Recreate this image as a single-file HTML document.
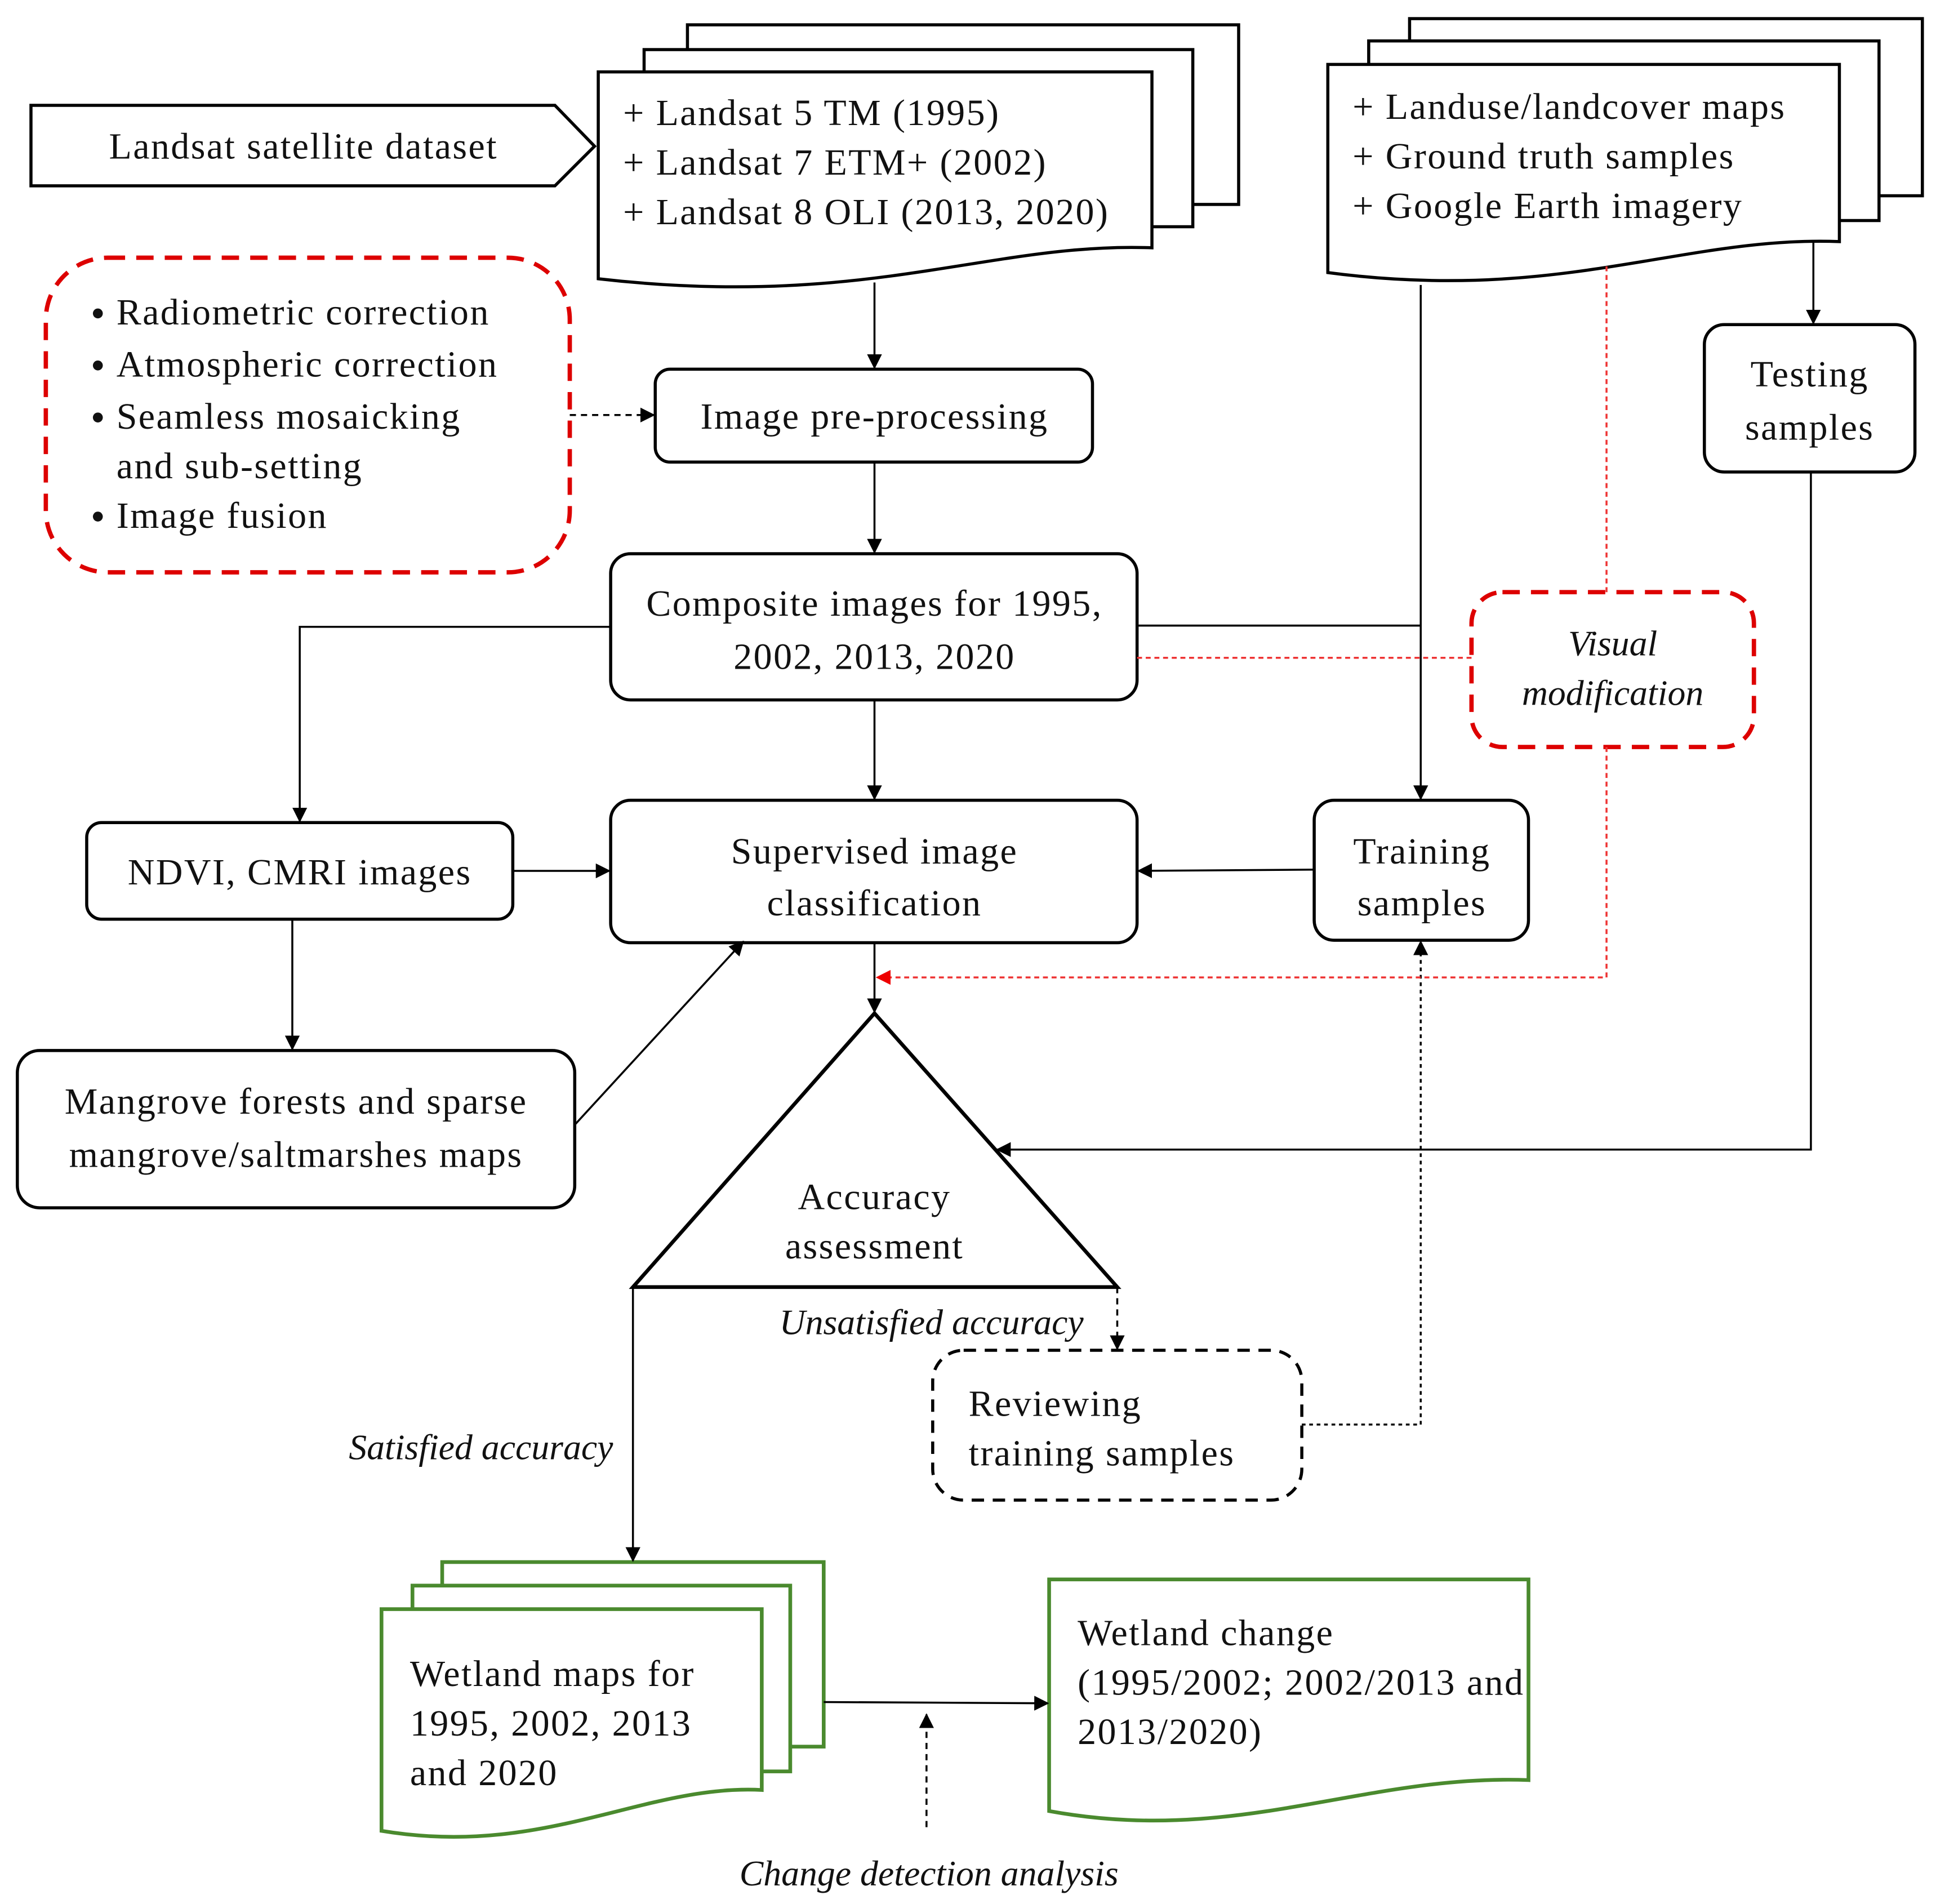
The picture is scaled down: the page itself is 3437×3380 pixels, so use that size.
<!DOCTYPE html>
<html><head><meta charset="utf-8"><style>
html,body{margin:0;padding:0;background:#fff}
svg{display:block}
text{font-family:"Liberation Serif",serif;font-size:30px;fill:#111;letter-spacing:1.1px}
.i{font-style:italic;font-size:29px;letter-spacing:0}
</style></head><body>
<svg width="3437" height="3380" viewBox="0 0 1563 1537" xmlns="http://www.w3.org/2000/svg">
<defs>
<marker id="a" markerWidth="12" markerHeight="12" refX="11" refY="6" orient="auto" markerUnits="userSpaceOnUse" viewBox="0 0 12 12"><path d="M0,0 L12,6 L0,12z" fill="#000"/></marker>
<marker id="r" markerWidth="12" markerHeight="12" refX="11" refY="6" orient="auto" markerUnits="userSpaceOnUse" viewBox="0 0 12 12"><path d="M0,0 L12,6 L0,12z" fill="#e00"/></marker>
</defs>
<g fill="#fff" stroke="#000" stroke-width="2.5">
<path d="M25,85 L448,85 L480,118 L448,150 L25,150Z"/>
<rect x="555" y="20" width="445" height="145"/>
<rect x="520" y="40" width="443" height="143"/>
<path d="M483,58 L930,58 L930,200 C800,195 700,250 483,225Z"/>
<rect x="1138" y="15" width="414" height="143"/>
<rect x="1105" y="33" width="412" height="145"/>
<path d="M1072,52 L1485,52 L1485,195 C1360,190 1260,245 1072,220Z"/>
<rect x="529" y="298" width="353" height="75" rx="12"/>
<rect x="493" y="447" width="425" height="118" rx="16"/>
<rect x="1376" y="262" width="170" height="119" rx="16"/>
<rect x="493" y="646" width="425" height="115" rx="16"/>
<rect x="70" y="664" width="344" height="78" rx="12"/>
<rect x="1061" y="646" width="173" height="113" rx="16"/>
<rect x="14" y="848" width="450" height="127" rx="18"/>
<path d="M706,818 L902,1039 L511,1039Z" stroke-width="3"/>
</g>
<rect x="37" y="208" width="423" height="254" rx="50" fill="none" stroke="#d00" stroke-width="3.5" stroke-dasharray="14,9"/>
<rect x="1188" y="478" width="228" height="125" rx="25" fill="none" stroke="#d00" stroke-width="3.5" stroke-dasharray="14,9"/>
<rect x="753" y="1090" width="298" height="121" rx="25" fill="none" stroke="#000" stroke-width="2.5" stroke-dasharray="10,7"/>
<g fill="#fff" stroke="#4a8a2e" stroke-width="3">
<rect x="357" y="1261" width="308" height="149"/>
<rect x="333" y="1280" width="305" height="150"/>
<path d="M308,1299 L615,1299 L615,1445 C520,1440 440,1500 308,1478Z"/>
<path d="M847,1275 L1234,1275 L1234,1437 C1100,1432 1000,1490 847,1462Z"/>
</g>
<g fill="none" stroke="#000" stroke-width="1.6">
<path d="M706,228 V297" marker-end="url(#a)"/>
<path d="M706,373 V446" marker-end="url(#a)"/>
<path d="M460,335 H528" stroke-dasharray="5,4" marker-end="url(#a)"/>
<path d="M493,506 H242 V663" marker-end="url(#a)"/>
<path d="M918,505 H1147"/>
<path d="M1147,230 V645" marker-end="url(#a)"/>
<path d="M1464,195 V261" marker-end="url(#a)"/>
<path d="M1462,381 V928 H805" marker-end="url(#a)"/>
<path d="M706,565 V645" marker-end="url(#a)"/>
<path d="M414,703 H492" marker-end="url(#a)"/>
<path d="M1061,702 L919,703" marker-end="url(#a)"/>
<path d="M236,742 V847" marker-end="url(#a)"/>
<path d="M464,908 L600,760" marker-end="url(#a)"/>
<path d="M706,761 V817" marker-end="url(#a)"/>
<path d="M902,1039 V1089" stroke-dasharray="5,4" marker-end="url(#a)"/>
<path d="M1051,1150 H1147 V760" stroke-dasharray="3,3" marker-end="url(#a)"/>
<path d="M511,1039 V1260" marker-end="url(#a)"/>
<path d="M665,1374 L846,1375" marker-end="url(#a)"/>
<path d="M748,1475 V1384" stroke-dasharray="5,4" marker-end="url(#a)"/>
</g>
<g fill="none" stroke="#e33" stroke-width="1.6" stroke-dasharray="4,3">
<path d="M918,531 H1188"/>
<path d="M1297,215 V478"/>
<path d="M1297,603 V789 H708" marker-end="url(#r)"/>
</g>
<text x="245" y="128" text-anchor="middle">Landsat satellite dataset</text>
<text x="503" y="101">+ Landsat 5 TM (1995)</text>
<text x="503" y="141">+ Landsat 7 ETM+ (2002)</text>
<text x="503" y="181">+ Landsat 8 OLI (2013, 2020)</text>
<text x="1092" y="96">+ Landuse/landcover maps</text>
<text x="1092" y="136">+ Ground truth samples</text>
<text x="1092" y="176">+ Google Earth imagery</text>
<g>
<circle cx="79" cy="253" r="4" fill="#111"/><circle cx="79" cy="295" r="4" fill="#111"/><circle cx="79" cy="337" r="4" fill="#111"/><circle cx="79" cy="417" r="4" fill="#111"/>
<text x="94" y="262">Radiometric correction</text>
<text x="94" y="304">Atmospheric correction</text>
<text x="94" y="346">Seamless mosaicking</text>
<text x="94" y="386">and sub-setting</text>
<text x="94" y="426">Image fusion</text>
</g>
<text x="706" y="346" text-anchor="middle">Image pre-processing</text>
<text x="706" y="497" text-anchor="middle">Composite images for 1995,</text>
<text x="706" y="540" text-anchor="middle">2002, 2013, 2020</text>
<text x="1461" y="312" text-anchor="middle">Testing</text>
<text x="1461" y="355" text-anchor="middle">samples</text>
<text class="i" x="1302" y="529" text-anchor="middle">Visual</text>
<text class="i" x="1302" y="569" text-anchor="middle">modification</text>
<text x="706" y="697" text-anchor="middle">Supervised image</text>
<text x="706" y="739" text-anchor="middle">classification</text>
<text x="242" y="714" text-anchor="middle">NDVI, CMRI images</text>
<text x="1148" y="697" text-anchor="middle">Training</text>
<text x="1148" y="739" text-anchor="middle">samples</text>
<text x="239" y="899" text-anchor="middle">Mangrove forests and sparse</text>
<text x="239" y="942" text-anchor="middle">mangrove/saltmarshes maps</text>
<text x="706" y="976" text-anchor="middle">Accuracy</text>
<text x="706" y="1016" text-anchor="middle">assessment</text>
<text class="i" x="752" y="1077" text-anchor="middle">Unsatisfied accuracy</text>
<text x="782" y="1143">Reviewing</text>
<text x="782" y="1183">training samples</text>
<text class="i" x="495" y="1178" text-anchor="end">Satisfied accuracy</text>
<text x="331" y="1361">Wetland maps for</text>
<text x="331" y="1401">1995, 2002, 2013</text>
<text x="331" y="1441">and 2020</text>
<text x="870" y="1328">Wetland change</text>
<text x="870" y="1368">(1995/2002; 2002/2013 and</text>
<text x="870" y="1408">2013/2020)</text>
<text class="i" x="750" y="1522" text-anchor="middle">Change detection analysis</text>
</svg>
</body></html>
